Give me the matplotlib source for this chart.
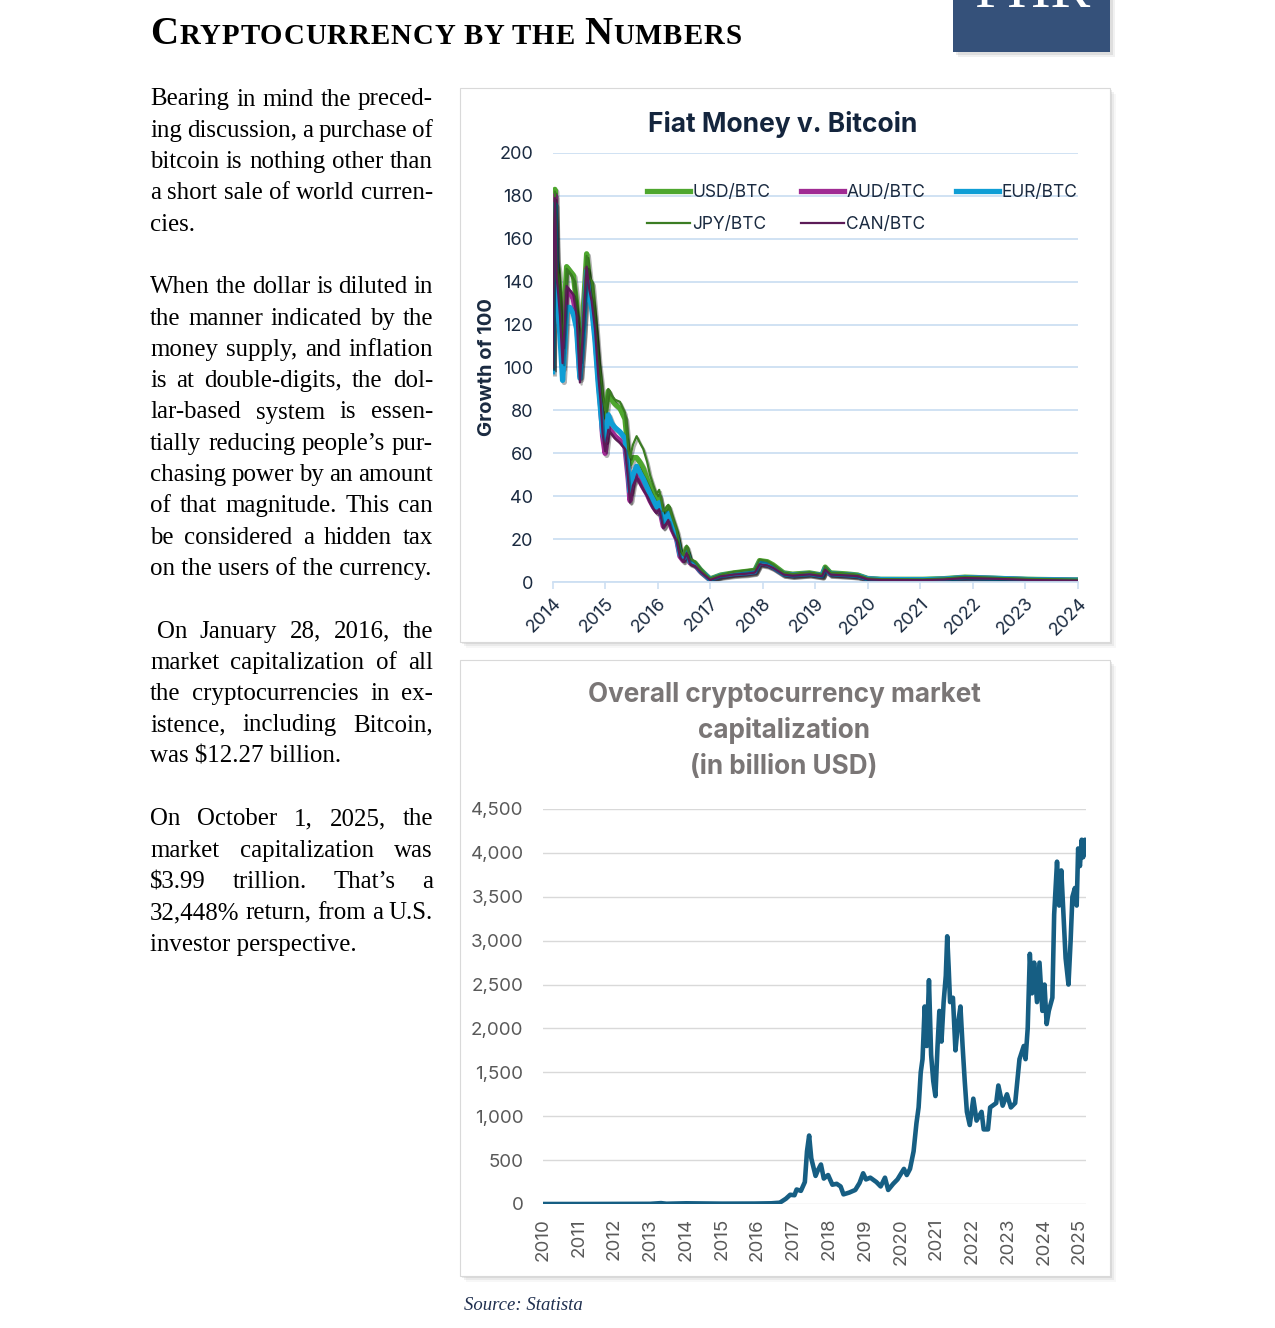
"""
Cryptocurrency by the numbers: page layout with two charts
(fiat currencies priced in bitcoin, and total crypto market cap).
"""
import matplotlib
matplotlib.use("Agg")
import matplotlib.pyplot as plt
import matplotlib.patheffects as pe
from matplotlib.patches import Rectangle
from matplotlib.ticker import FuncFormatter
from matplotlib.font_manager import FontProperties

# ---- Fiat Money v. Bitcoin (growth of 100) ----
fiat_years = [
    2014.00, 2014.02, 2014.044, 2014.076, 2014.108, 2014.14, 2014.19, 2014.23, 2014.267, 2014.33,
    2014.394, 2014.457, 2014.52, 2014.584, 2014.648, 2014.70, 2014.743, 2014.806, 2014.87, 2014.914,
    2014.952, 2015.00, 2015.06, 2015.124, 2015.187, 2015.283, 2015.378, 2015.44, 2015.473, 2015.53,
    2015.60, 2015.66, 2015.727, 2015.80, 2015.854, 2015.92, 2015.98, 2016.03, 2016.108, 2016.203,
    2016.267, 2016.362, 2016.425, 2016.49, 2016.552, 2016.616, 2016.711, 2016.806, 2016.933, 2017.00,
    2017.20, 2017.45, 2017.69, 2017.85, 2017.94, 2018.09, 2018.20, 2018.40, 2018.57, 2018.89,
    2019.13, 2019.19, 2019.29, 2019.60, 2019.81, 2020.00, 2020.25, 2021.05, 2021.45, 2021.85,
    2022.00, 2022.50, 2023.05, 2024.00,
]
usd_btc = [
    100, 160, 183, 150, 145, 135, 108, 130, 147, 145,
    143, 130, 104, 127, 153, 141, 139, 122, 102, 93,
    83, 77, 89, 85, 83, 81, 76, 60, 55, 58,
    58, 56, 53, 48, 45, 42, 39, 40, 31, 35,
    30, 23, 15, 12, 16, 10, 9, 6, 3, 1.5,
    3.3, 4.3, 5, 5.5, 10, 9.5, 8, 4.3, 3.7, 4.3,
    3.3, 7, 4.3, 3.8, 3.3, 1.7, 1.3, 1.3, 1.6, 2.3,
    2.2, 1.7, 1.3, 1.0,
]
jpy_btc = [
    100, 158, 182, 148, 143, 133, 110, 128, 146, 144,
    141, 128, 103, 125, 152, 142, 140, 124, 104, 95,
    86, 80, 90, 87, 85, 84, 79, 62, 58, 64,
    68, 65, 62, 56, 50, 45, 41, 43, 33, 36,
    31, 24, 15, 12.5, 17, 11, 9.5, 6.5, 3.2, 1.8,
    3.5, 4.8, 5.5, 6, 10.5, 9.8, 8.2, 4.5, 3.8, 4.6,
    3.5, 7.3, 4.5, 4.0, 3.5, 1.8, 1.4, 1.3, 1.7, 2.5,
    2.4, 2.0, 1.6, 1.2,
]
eur_btc = [
    98, 150, 176, 135, 125, 115, 94, 110, 128, 128,
    125, 118, 95, 115, 145, 133, 128, 113, 92, 80,
    70, 66, 78, 74, 72, 70, 67, 52, 42, 50,
    54, 51, 48, 44, 41, 38, 35, 37, 28, 32,
    27, 21, 13, 11, 14.5, 9.5, 8.5, 5.5, 2.8, 1.2,
    3.0, 3.9, 4.3, 4.8, 9.0, 8.3, 7.0, 3.8, 3.3, 3.9,
    3.0, 6.3, 3.9, 3.4, 3.0, 1.5, 1.2, 1.1, 1.4, 2.1,
    2.0, 1.7, 1.2, 0.9,
]
aud_btc = [
    100, 155, 180, 140, 132, 122, 100, 118, 136, 135,
    132, 122, 96, 118, 146, 135, 130, 116, 95, 82,
    68, 60, 72, 70, 68, 66, 63, 48, 38, 46,
    50, 47, 44, 41, 38, 35, 33, 35, 26, 30,
    25, 20, 12, 10, 14, 9, 8, 5.2, 2.6, 1.1,
    2.8, 3.6, 4.0, 4.6, 8.6, 8.0, 6.8, 3.7, 3.2, 3.8,
    2.9, 6.0, 3.7, 3.3, 2.9, 1.4, 1.1, 1.0, 1.3, 2.0,
    1.9, 1.6, 1.1, 0.8,
]
can_btc = [
    100, 155, 179, 142, 134, 124, 102, 120, 138, 136,
    134, 124, 93, 120, 147, 136, 131, 118, 96, 84,
    69, 61, 71, 69, 67, 65, 62, 47, 37, 45,
    49, 46, 43, 40, 37, 34, 32, 34, 25, 29,
    24, 19, 11.5, 9.5, 13.5, 8.5, 7.5, 5, 2.4, 1.0,
    2.7, 3.5, 3.9, 4.4, 8.3, 7.8, 6.6, 3.5, 3.0, 3.6,
    2.8, 5.8, 3.5, 3.1, 2.8, 1.3, 1.0, 0.9, 1.2, 1.9,
    1.8, 1.5, 1.0, 0.7,
]

# ---- Overall crypto market cap (billion USD) ----
cap_years = [
    2010.0, 2011.0, 2012.0, 2013.0, 2013.3, 2013.45, 2014.0, 2015.0, 2015.91, 2016.38,
    2016.62, 2016.79, 2016.91, 2017.03, 2017.09, 2017.21, 2017.32, 2017.38, 2017.44, 2017.50,
    2017.56, 2017.62, 2017.68, 2017.77, 2017.85, 2017.97, 2018.09, 2018.21, 2018.32, 2018.40,
    2018.56, 2018.73, 2018.85, 2018.95, 2019.03, 2019.15, 2019.32, 2019.44, 2019.56, 2019.65,
    2019.79, 2019.91, 2020.09, 2020.17, 2020.26, 2020.36, 2020.44, 2020.50, 2020.56, 2020.61,
    2020.67, 2020.73, 2020.79, 2020.85, 2020.91, 2020.97, 2021.03, 2021.08, 2021.14, 2021.20,
    2021.26, 2021.30, 2021.34, 2021.38, 2021.46, 2021.53, 2021.60, 2021.67, 2021.73, 2021.79,
    2021.85, 2021.93, 2022.03, 2022.12, 2022.26, 2022.32, 2022.44, 2022.50, 2022.67, 2022.73,
    2022.85, 2022.97, 2023.08, 2023.20, 2023.32, 2023.44, 2023.49, 2023.55, 2023.61, 2023.67,
    2023.73, 2023.81, 2023.88, 2023.96, 2024.02, 2024.08, 2024.14, 2024.24, 2024.29, 2024.37,
    2024.43, 2024.49, 2024.55, 2024.61, 2024.69, 2024.75, 2024.80, 2024.87, 2024.92, 2024.96,
    2025.01, 2025.06, 2025.10, 2025.15, 2025.20,
]
cap_values = [
    0, 0, 1, 2, 10, 3, 8, 4, 5, 8,
    15, 60, 105, 100, 165, 150, 250, 600, 780, 520,
    420, 320, 380, 450, 290, 330, 220, 230, 200, 110,
    130, 160, 240, 350, 280, 300, 250, 200, 300, 160,
    230, 280, 400, 330, 400, 600, 920, 1100, 1500, 1650,
    2250, 1800, 2550, 1700, 1400, 1230, 1800, 2200, 1850, 2300,
    2600, 3050, 2700, 2300, 2350, 1750, 2050, 2250, 1800, 1400,
    1050, 900, 1200, 950, 1050, 850, 850, 1100, 1150, 1350,
    1120, 1250, 1100, 1150, 1650, 1800, 1650, 2000, 2850, 2400,
    2750, 2300, 2750, 2200, 2500, 2050, 2200, 2350, 3300, 3900,
    3400, 3800, 3300, 2800, 2500, 3000, 3500, 3600, 3400, 4050,
    3850, 4150, 3950, 4150, 4000,
]

# ---- body text (one list per paragraph, as set on the page) ----
para1 = ["Bearing in mind the preced-", "ing discussion, a purchase of",
         "bitcoin is nothing other than", "a short sale of world curren-", "cies."]
para2 = ["When the dollar is diluted in", "the manner indicated by the",
         "money supply, and inflation", "is at double-digits, the dol-",
         "lar-based system is essen-", "tially reducing people\u2019s pur-",
         "chasing power by an amount", "of that magnitude. This can",
         "be considered a hidden tax", "on the users of the currency."]
para3 = ["On January 28, 2016, the", "market capitalization of all",
         "the cryptocurrencies in ex-", "istence, including Bitcoin,",
         "was $12.27 billion."]
para4 = ["On October 1, 2025, the", "market capitalization was",
         "$3.99 trillion. That\u2019s a", "32,448% return, from a U.S.",
         "investor perspective."]

W, H = 1275, 1328
SANS = ["Inter", "DejaVu Sans"]
SERIF = ["Liberation Serif", "DejaVu Serif"]


def fx(x):
    return x / W


def fy(y):
    return 1 - y / H


fig = plt.figure(figsize=(W / 100, H / 100), dpi=100)
fig.patch.set_facecolor("white")
renderer = fig.canvas.get_renderer()


def text_width(s, size, weight="normal"):
    fp = FontProperties(family=SERIF, size=size, weight=weight)
    w, _, _ = renderer.get_text_width_height_descent(s, fp, ismath=False)
    return w


def panel(x0, y0, x1, y1):
    # soft drop shadow, then white card with a hairline border
    for off, a in [(6, 0.06), (4, 0.10), (2, 0.14)]:
        fig.add_artist(Rectangle((fx(x0 + off), fy(y1 + off)), (x1 - x0) / W, (y1 - y0) / H,
                                 transform=fig.transFigure, facecolor="#7f7f7f", alpha=a,
                                 edgecolor="none", zorder=-10))
    fig.add_artist(Rectangle((fx(x0), fy(y1)), (x1 - x0) / W, (y1 - y0) / H,
                             transform=fig.transFigure, facecolor="white",
                             edgecolor="#d9d9d9", lw=0.8, zorder=-9))


# ---- header: bold small caps with a little tracking ----
TRACK = 1.0
x = 150
for piece, size in [("C", 28), ("RYPTOCURRENCY BY THE ", 20.8), ("N", 28), ("UMBERS", 20.8)]:
    for i, ch in enumerate(piece):
        if ch == " ":
            continue
        pos = text_width(piece[:i + 1], size, "bold") - text_width(ch, size, "bold")
        fig.text(fx(x + pos + i * TRACK), fy(44), ch, fontsize=size, fontweight="bold",
                 family=SERIF, color="black", va="baseline", ha="left")
    x += text_width(piece.rstrip(), size, "bold") + len(piece) * TRACK
    if piece.endswith(" "):
        x += 0.25 * size * 100 / 72

# logo block (text cut off by the page edge, as on the page)
for off, a in [(5, 0.08), (3, 0.12)]:
    fig.add_artist(Rectangle((fx(953 + off), fy(52 + off)), 157 / W, 60 / H,
                             transform=fig.transFigure, facecolor="#555555", alpha=a,
                             edgecolor="none", zorder=-10))
fig.add_artist(Rectangle((fx(953), fy(52)), 157 / W, 60 / H, transform=fig.transFigure,
                         facecolor="#35517a", edgecolor="none", zorder=-9))
fig.text(fx(1032), fy(7), "FHR", fontsize=43, family=SERIF, color="white",
         ha="center", va="baseline")

# ---- body text, justified to the column ----
COL_L, COL_R, LEAD, BASE0 = 150, 433, 31.3, 105.5
BODY_FS = 17.9


def body_line(text, row, justify, left=COL_L):
    y = fy(BASE0 + row * LEAD)
    words = text.split(" ")
    if not justify or len(words) == 1:
        fig.text(fx(left), y, text, fontsize=BODY_FS, family=SERIF, va="baseline")
        return
    widths = [text_width(w, BODY_FS) for w in words]
    gap = (COL_R - left - sum(widths)) / (len(words) - 1)
    xx = left
    for w, wd in zip(words, widths):
        fig.text(fx(xx), y, w, fontsize=BODY_FS, family=SERIF, va="baseline")
        xx += wd + gap


row = 0
for para, first_left in [(para1, COL_L), (para2, COL_L), (para3, 157), (para4, COL_L)]:
    for i, line in enumerate(para):
        last = i == len(para) - 1
        body_line(line, row, not last, first_left if i == 0 else COL_L)
        row += 1
    row += 1

# ---- chart 1: Fiat Money v. Bitcoin ----
panel(460, 88, 1110, 642)
NAVY = "#1a2a40"
GRID_BLUE = "#cddff2"
ax1 = fig.add_axes([fx(552.6), fy(582.1), 525.2 / W, 429.2 / H])
ax1.set_facecolor("none")
ax1.set_xlim(2014, 2024)
ax1.set_ylim(0, 200)
ax1.set_yticks(range(0, 201, 20))
ax1.set_xticks(range(2014, 2025))
ax1.grid(axis="y", color=GRID_BLUE, lw=1.3)
ax1.set_axisbelow(True)
for s in ["top", "right", "left"]:
    ax1.spines[s].set_visible(False)
ax1.spines["bottom"].set_color(GRID_BLUE)
ax1.spines["bottom"].set_linewidth(1.3)
ax1.tick_params(axis="x", length=5, width=1.2, color=GRID_BLUE, labelsize=13,
                labelcolor=NAVY, pad=4)
ax1.tick_params(axis="y", length=0, labelsize=13, labelcolor=NAVY, pad=14)
for lab in ax1.get_xticklabels() + ax1.get_yticklabels():
    lab.set_family(SANS)
for lab in ax1.get_xticklabels():
    lab.set_rotation(45)
    lab.set_ha("right")
    lab.set_va("top")
    lab.set_rotation_mode("anchor")

shadow = [pe.SimpleLineShadow(offset=(1.2, -1.5), shadow_color="black", alpha=0.3), pe.Normal()]
series = [
    (usd_btc, "USD/BTC", "#4ea72e", 3.8),
    (aud_btc, "AUD/BTC", "#a02b93", 3.8),
    (eur_btc, "EUR/BTC", "#0f9ed5", 3.8),
    (jpy_btc, "JPY/BTC", "#3b7d23", 1.6),
    (can_btc, "CAN/BTC", "#5c1b58", 1.6),
]
handles = {}
for vals, name, col, lw in series:
    (ln,) = ax1.plot(fiat_years, vals, color=col, lw=lw, label=name,
                     solid_joinstyle="round", path_effects=shadow)
    handles[name] = ln

order = ["USD/BTC", "JPY/BTC", "AUD/BTC", "CAN/BTC", "EUR/BTC"]
leg = ax1.legend([handles[n] for n in order], order, ncol=3, frameon=False,
                 loc="upper left", bbox_to_anchor=((647 - 552.6) / 525.2, (582.1 - 184) / 429.2),
                 borderpad=0, borderaxespad=0, handlelength=2.5, handletextpad=0.12,
                 columnspacing=1.75, labelspacing=0.85,
                 prop={"family": SANS, "size": 12.5})
for txt in leg.get_texts():
    txt.set_color(NAVY)
for lh in leg.get_lines():
    lh.set_path_effects([])

fig.text(fx(783), fy(124), "Fiat Money v. Bitcoin", ha="center", va="center",
         fontsize=19, fontweight="bold", family=SANS, color="#14253d")
fig.text(fx(487), fy(367), "Growth of 100", rotation=90, ha="center", va="center",
         fontsize=14.5, fontweight="bold", family=SANS, color=NAVY)

# ---- chart 2: overall market cap ----
panel(460, 660, 1110, 1276)
GRAY_TXT = "#595959"
ax2 = fig.add_axes([fx(543), fy(1204), 543 / W, 395 / H])
ax2.set_facecolor("none")
ax2.set_xlim(2010, 2025.18)
ax2.set_ylim(0, 4500)
ax2.set_yticks(range(0, 4501, 500))
ax2.set_xticks(range(2010, 2026))
ax2.yaxis.set_major_formatter(FuncFormatter(lambda v, _: f"{v:,.0f}"))
ax2.grid(axis="y", color="#d9d9d9", lw=1.0)
ax2.set_axisbelow(True)
for s in ax2.spines.values():
    s.set_visible(False)
ax2.tick_params(axis="both", length=0, labelsize=13.5, labelcolor=GRAY_TXT)
ax2.tick_params(axis="y", pad=14)
ax2.tick_params(axis="x", pad=10, labelrotation=90)
for lab in ax2.get_xticklabels() + ax2.get_yticklabels():
    lab.set_family(SANS)
ax2.plot(cap_years, cap_values, color="#165e83", lw=3.3, solid_joinstyle="round")

for i, line in enumerate(["Overall cryptocurrency market", "capitalization", "(in billion USD)"]):
    fig.text(fx(784), fy(695 + 36 * i), line, ha="center", va="center",
             fontsize=18.8, fontweight="bold", family=SANS, color="#7a7676")

fig.text(fx(464), fy(1305), "Source: Statista", ha="left", va="center",
         fontsize=13.5, style="italic", family=SERIF, color="#1f2f4f")

fig.savefig("out.png", dpi=100)
